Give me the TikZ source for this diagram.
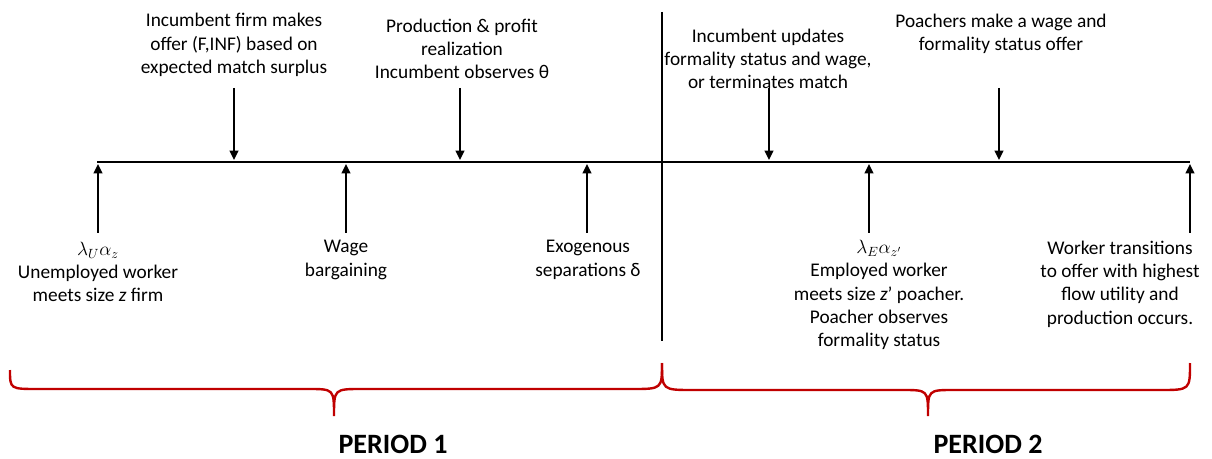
\documentclass[tikz,border=0pt]{standalone}
\usepackage{amsmath}
\usepackage{fontspec}
\setmainfont{Carlito}
\usepackage{tikz}
\usetikzlibrary{arrows.meta}
\definecolor{bracered}{RGB}{192,0,0}

\begin{document}
\begin{tikzpicture}[x=0.75pt,y=-0.75pt,
	event/.style={align=center,font=\fontsize{14.5}{17.5}\selectfont},
	tick/.style={line width=1.5pt,-{Triangle[length=7pt,width=6.5pt]}},
	brace/.style={bracered,line width=1.8pt},
	period/.style={inner sep=0pt,font=\fontsize{21}{24}\selectfont\bfseries}]
\useasboundingbox (0,0) rectangle (1212,459);
% timeline
\coordinate (start) at (97,162);
\coordinate (stop) at (1190,162);
\draw[line width=2pt] (start) -- (stop);
\coordinate (divtop) at (662,12);
\coordinate (divbot) at (662,341);
\draw[line width=1.6pt] (divtop) -- (divbot);
% events above the line
\node [event] (offer) at (234,45) {Incumbent firm makes\\offer (F,INF) based on\\expected match surplus};
\node [event] (prod) at (462,49) {Production \& profit\\realization\\Incumbent observes θ};
\node [event] (update) at (768,59) {Incumbent updates\\formality status and wage,\\or terminates match};
\node [event] (poach) at (1001,34) {Poachers make a wage and\\formality status offer};
\coordinate (offer-a) at (234,88);  \coordinate (offer-b) at (234,160);
\coordinate (prod-a) at (460,88);   \coordinate (prod-b) at (460,160);
\coordinate (update-a) at (769,88); \coordinate (update-b) at (769,160);
\coordinate (poach-a) at (999,88);  \coordinate (poach-b) at (999,160);
\draw[tick] (offer-a) -- (offer-b);
\draw[tick] (prod-a) -- (prod-b);
\draw[tick] (update-a) -- (update-b);
\draw[tick] (poach-a) -- (poach-b);
% events below the line
\node [event] (meet) at (98,272) {$\lambda_U\alpha_z$\\Unemployed worker\\meets size \textit{z} firm};
\node [event] (wage) at (346,260) {Wage\\bargaining};
\node [event] (sep) at (588,260) {Exogenous\\separations δ};
\node [event] (empl) at (879,295) {$\lambda_E\alpha_{z'}$\\Employed worker\\meets size \textit{z}’ poacher.\\Poacher observes\\formality status};
\node [event] (trans) at (1120,284) {Worker transitions\\to offer with highest\\flow utility and\\production occurs.};
\coordinate (meet-a) at (98,233);   \coordinate (meet-b) at (98,164);
\coordinate (wage-a) at (346,233);  \coordinate (wage-b) at (346,164);
\coordinate (sep-a) at (587,233);   \coordinate (sep-b) at (587,164);
\coordinate (empl-a) at (869,233);  \coordinate (empl-b) at (869,164);
\coordinate (trans-a) at (1190,233); \coordinate (trans-b) at (1190,164);
\draw[tick] (meet-a) -- (meet-b);
\draw[tick] (wage-a) -- (wage-b);
\draw[tick] (sep-a) -- (sep-b);
\draw[tick] (empl-a) -- (empl-b);
\draw[tick] (trans-a) -- (trans-b);
% braces
\draw[brace] (10,370) .. controls (10,389) .. (38,389) -- (308,389)
	.. controls (334,389) .. (334,416) .. controls (334,389) .. (362,389) -- (632,389)
	.. controls (662,389) .. (662,363);
\draw[brace] (662,363) .. controls (662,390) .. (693,390) -- (902,390)
	.. controls (928,390) .. (928,416) .. controls (928,390) .. (954,390) -- (1160,390)
	.. controls (1190,390) .. (1190,363);
\node [period] (p1) at (393,444) {PERIOD 1};
\node [period] (p2) at (988,444) {PERIOD 2};
\end{tikzpicture}
\end{document}
